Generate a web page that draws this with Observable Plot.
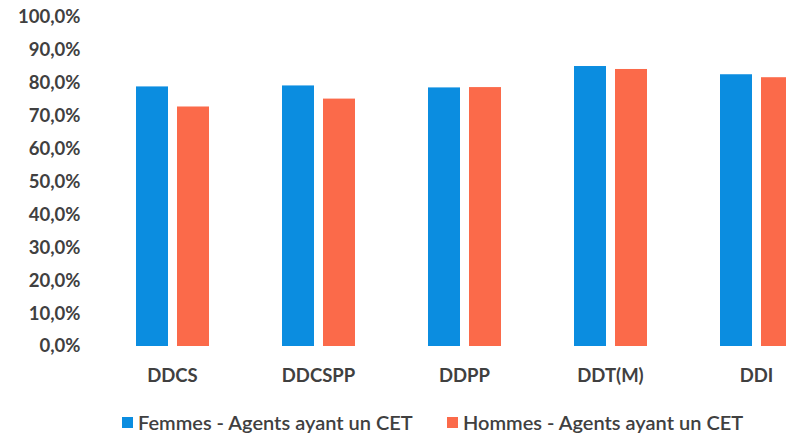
<!DOCTYPE html>
<html><head><meta charset="utf-8">
<script src="https://cdn.jsdelivr.net/npm/d3@7"></script>
<script src="https://cdn.jsdelivr.net/npm/@observablehq/plot@0.6"></script>
<style>
html,body{margin:0;padding:0;background:#fff;overflow:hidden;}
#wrap{width:786px;height:434px;overflow:hidden;position:relative;font-family:Lato,sans-serif;background:#fff;}
#chart{position:absolute;left:0;top:0;}
.item{position:absolute;top:412px;height:20px;display:flex;align-items:center;color:#404040;font-size:20px;font-weight:600;white-space:nowrap;}
.sw{width:11px;height:11px;margin-right:5px;display:inline-block;}
</style></head><body><div id="wrap"><div id="chart"></div></div>
<script>
const categories = ["DDCS", "DDCSPP", "DDPP", "DDT(M)", "DDI"];
const femmes = [0.789, 0.792, 0.786, 0.851, 0.826];
const hommes = [0.728, 0.752, 0.787, 0.842, 0.817];
const seriesNames = ["Femmes - Agents ayant un CET", "Hommes - Agents ayant un CET"];
const seriesColors = ["#0B8DE0", "#FB6A4A"];
const yTicks = [0, 0.1, 0.2, 0.3, 0.4, 0.5, 0.6, 0.7, 0.8, 0.9, 1.0];

const fmt = d => (d * 100).toFixed(1).replace(".", ",") + "%";

const data = categories.flatMap((c, i) => [
  {cat: c, serie: seriesNames[0], value: femmes[i]},
  {cat: c, serie: seriesNames[1], value: hommes[i]}
]);

const plot = Plot.plot({
  width: 830, height: 400,
  marginLeft: 97, marginRight: 0, marginTop: 17, marginBottom: 54,
  style: {fontFamily: "Lato, sans-serif", fontSize: "18.5px", fontWeight: 700, color: "#404040", maxWidth: "none", overflow: "visible", background: "#fff"},
  fx: {domain: categories, padding: 0, label: null},
  x: {domain: seriesNames, paddingInner: 0.226, paddingOuter: 0.86, axis: null},
  y: {domain: [0, 1], label: null},
  color: {domain: seriesNames, range: seriesColors},
  marks: [
    Plot.axisY({ticks: yTicks, tickSize: 0, tickPadding: 19, tickFormat: fmt, label: null}),
    Plot.axisFx({anchor: "bottom", tickSize: 0, tickPadding: 22, label: null}),
    Plot.barY(data, {fx: "cat", x: "serie", y: "value", fill: "serie"})
  ]
});
document.getElementById("chart").appendChild(plot);

const wrap = document.getElementById("wrap");
const lefts = [122, 447];
seriesNames.forEach((s, i) => {
  const it = document.createElement("div");
  it.className = "item";
  it.style.left = lefts[i] + "px";
  const sw = document.createElement("span");
  sw.className = "sw";
  sw.style.background = seriesColors[i];
  const t = document.createElement("span");
  t.textContent = s;
  it.appendChild(sw); it.appendChild(t);
  wrap.appendChild(it);
});
</script></body></html>
